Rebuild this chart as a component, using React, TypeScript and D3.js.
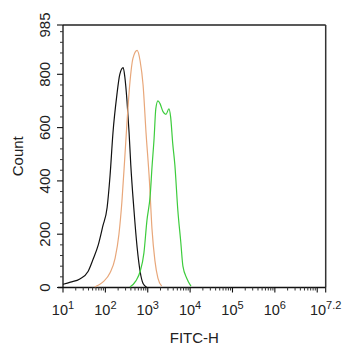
import * as d3 from 'd3';

// FITC-H intensity / count
const blackX = [10, 15, 25, 39, 51, 68, 87, 110, 129, 151, 186, 219, 263, 288, 324, 363, 398, 468, 562, 661, 776, 955];
const blackY = [12, 20, 32, 60, 105, 160, 230, 300, 420, 580, 720, 800, 825, 790, 700, 580, 460, 300, 150, 60, 15, 0];

const orangeX = [56, 87, 129, 170, 209, 245, 288, 324, 380, 447, 562, 661, 776, 912, 1096, 1259, 1479, 1738, 2138];
const orangeY = [2, 20, 55, 110, 200, 320, 490, 620, 770, 860, 890, 850, 760, 580, 400, 220, 100, 35, 5];

const greenX = [380, 525, 661, 813, 955, 1148, 1259, 1413, 1549, 1738, 1950, 2291, 2692, 3162, 3467, 3890, 4365, 5129, 6026, 6761, 8318, 10471];
const greenY = [2, 25, 60, 130, 250, 350, 450, 560, 670, 700, 690, 660, 650, 670, 640, 540, 460, 290, 170, 80, 35, 5];

const yMajor = [0, 200, 400, 600, 800, 985];
const xExponents = ['1', '2', '3', '4', '5', '6', '7.2'];

const series = [
  { xs: blackX, ys: blackY, color: '#111111' },
  { xs: orangeX, ys: orangeY, color: '#e8a77a' },
  { xs: greenX, ys: greenY, color: '#3dcc3d' },
];

export default function App() {
  const width = 342;
  const height = 350;
  const left = 63;
  const right = 325.7;
  const top = 25;
  const bottom = 287.5;
  const font = 'Liberation Sans, Arial, sans-serif';

  const x = d3.scaleLog().domain([10, 10 ** 7.2]).range([left, right]);
  const y = d3.scaleLinear().domain([0, 985]).range([bottom, top]);

  const line = d3.line<[number, number]>()
    .x(d => x(d[0]))
    .y(d => y(d[1]))
    .curve(d3.curveMonotoneX);

  const yMinor = d3.range(40, 985, 40).filter(v => v % 200 !== 0);
  const xMinor: number[] = [];
  for (let e = 1; e <= 7; e++) {
    for (let m = 2; m <= 9; m++) {
      const v = m * 10 ** e;
      if (v < 10 ** 7.2) xMinor.push(v);
    }
  }
  const xMajor = d3.range(1, 8).map(e => 10 ** e).concat([10 ** 7.2]);

  return (
    <svg width={width} height={height} style={{ position: 'absolute', left: 0, top: 0, background: '#fff' }}>
      {/* frame */}
      <line x1={left} x2={right} y1={top} y2={top} stroke="#222" strokeWidth={1.3} />
      <line x1={right} x2={right} y1={top} y2={bottom} stroke="#333" strokeWidth={1.5} />
      <line x1={left} x2={left} y1={top} y2={bottom} stroke="#111" strokeWidth={1.3} />
      <line x1={left - 5} x2={right} y1={bottom} y2={bottom} stroke="#111" strokeWidth={1.3} />

      {/* y ticks */}
      {yMajor.map(v => (
        <line key={'ym' + v} x1={left - 6} x2={left} y1={y(v)} y2={y(v)} stroke="#111" strokeWidth={1.1} />
      ))}
      {yMinor.map(v => (
        <line key={'yn' + v} x1={left - 3} x2={left} y1={y(v)} y2={y(v)} stroke="#333" strokeWidth={1} />
      ))}
      {yMajor.map(v => (
        <text key={'yl' + v} transform={`translate(50,${y(v)}) rotate(-90)`} textAnchor="middle"
          fontFamily={font} fontSize={15} fill="#222">{v}</text>
      ))}

      {/* x ticks */}
      {xMajor.map(v => (
        <line key={'xm' + v} x1={x(v)} x2={x(v)} y1={bottom} y2={bottom + 5} stroke="#111" strokeWidth={1.1} />
      ))}
      {xMinor.map(v => (
        <line key={'xn' + v} x1={x(v)} x2={x(v)} y1={bottom} y2={bottom + 3} stroke="#333" strokeWidth={1} />
      ))}
      {xExponents.map(e => (
        <text key={'xl' + e} x={x(10 ** parseFloat(e))} y={315} textAnchor="middle"
          fontFamily={font} fontSize={14.5} fill="#222">
          10<tspan fontSize={11} dy={-6}>{e}</tspan>
        </text>
      ))}

      {/* histograms */}
      {series.map((s, i) => (
        <path key={i} d={line(s.xs.map((v, j) => [v, s.ys[j]] as [number, number])) || ''}
          fill="none" stroke={s.color} strokeWidth={1.2} strokeLinejoin="round" />
      ))}

      {/* axis titles */}
      <text x={(left + right) / 2} y={343} textAnchor="middle" fontFamily={font} fontSize={15} fill="#222">FITC-H</text>
      <text transform={`translate(23,${(top + bottom) / 2}) rotate(-90)`} textAnchor="middle"
        fontFamily={font} fontSize={15} fill="#222">Count</text>
    </svg>
  );
}
